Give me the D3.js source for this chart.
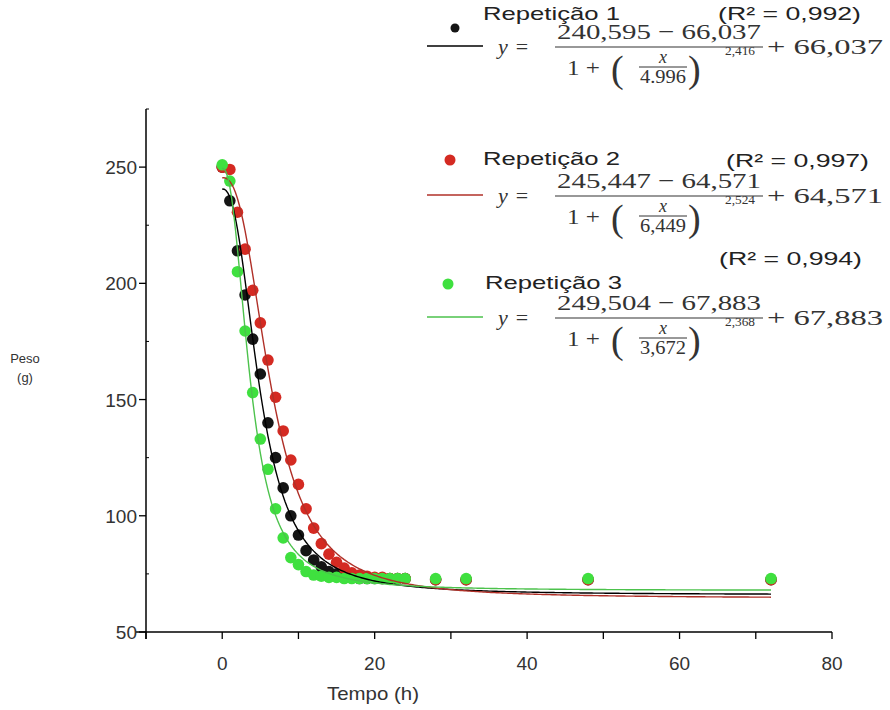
<!DOCTYPE html>
<html>
<head>
<meta charset="utf-8">
<script src="https://cdn.jsdelivr.net/npm/d3@7"></script>
<style>
  body { margin: 0; background: #fff; }
  svg { display: block; }
  .tick-label { font-family: "Liberation Sans", Arial, sans-serif; font-size: 19px; fill: #333; }
  .leg { font-family: "Liberation Sans", Arial, sans-serif; font-size: 19px; fill: #222; }
  .eq { font-family: "Liberation Serif", "DejaVu Serif", serif; fill: #333; }
</style>
</head>
<body>
<div id="chart"></div>
<script>
// time (h)
const hours = [0,1,2,3,4,5,6,7,8,9,10,11,12,13,14,15,16,17,18,19,20,21,22,23,24,28,32,48,72];

// peso (g) per repeticao
const rep1 = [250,235.5,214,195,176,161,140,125,112,100,91.7,85,81,78,76,75,74,73.5,73,73,73,73,73,73,73,72.5,72.5,72.5,72.5];
const rep2 = [250,249,230.6,214.7,197,183,167,151,136.5,124,113.5,103,94.7,88,83.5,80,77.5,75.5,74.5,74,73.5,73.5,73,73,73,72.5,72.5,72.5,72.5];
const rep3 = [251,244,205,179.5,153,133,120,103,90.5,82,79,76,74.5,74,73.5,73.5,73,73,73,73,73,73,73,73,73,73,73,73,73];

// fitted params [top, bottom, x50, slope]
const fit1 = [240.595, 66.037, 4.996, 2.416];
const fit2 = [245.447, 64.571, 6.449, 2.524];
const fit3 = [249.504, 67.883, 3.672, 2.368];

// text as printed on the chart
const eqText1 = ["240,595", "66,037", "4.996", "2,416"];
const eqText2 = ["245,447", "64,571", "6,449", "2,524"];
const eqText3 = ["249,504", "67,883", "3,672", "2,368"];
const names = ["Repetição 1", "Repetição 2", "Repetição 3"];
const r2 = ["(R² = 0,992)", "(R² = 0,997)", "(R² = 0,994)"];

const yTicks = [50,100,150,200,250];
const yMinor = [75,125,175,225,275];
const xTicks = [-10,0,10,20,30,40,50,60,70,80];
const xLabels = [0,20,40,60,80];

const W = 890, H = 710;
const svg = d3.select("#chart").append("svg").attr("width", W).attr("height", H);

const x = d3.scaleLinear().domain([-10, 80]).range([146, 832]);
const y = d3.scaleLinear().domain([50, 275]).range([632, 109]);

// axes
svg.append("line").attr("x1", x(-10)).attr("x2", x(-10)).attr("y1", y(275)).attr("y2", y(50) + 7)
  .attr("stroke", "#000").attr("stroke-width", 1.5);
svg.append("line").attr("x1", x(-10) - 10).attr("x2", x(80)).attr("y1", y(50)).attr("y2", y(50))
  .attr("stroke", "#000").attr("stroke-width", 1.5);

svg.selectAll(".ytick").data(yTicks).enter().append("line")
  .attr("x1", x(-10) - 7).attr("x2", x(-10)).attr("y1", d => y(d)).attr("y2", d => y(d))
  .attr("stroke", "#000").attr("stroke-width", 1.3);
svg.selectAll(".yminor").data(yMinor).enter().append("line")
  .attr("x1", x(-10)).attr("x2", x(-10) + 3).attr("y1", d => y(d)).attr("y2", d => y(d))
  .attr("stroke", "#000").attr("stroke-width", 1);
svg.selectAll(".ylab").data(yTicks).enter().append("text")
  .attr("class", "tick-label")
  .attr("x", x(-10) - 9).attr("y", d => y(d) + 7)
  .attr("text-anchor", "end")
  .text(d => d);

svg.selectAll(".xtick").data(xTicks).enter().append("line")
  .attr("x1", d => x(d)).attr("x2", d => x(d)).attr("y1", y(50)).attr("y2", y(50) + 7)
  .attr("stroke", "#000").attr("stroke-width", 1.3);
svg.selectAll(".xlab").data(xLabels).enter().append("text")
  .attr("class", "tick-label")
  .attr("x", d => x(d)).attr("y", y(50) + 38)
  .attr("text-anchor", "middle")
  .text(d => d);

svg.append("text").attr("class", "tick-label").attr("x", 327).attr("y", 700)
  .attr("textLength", 92).attr("lengthAdjust", "spacingAndGlyphs").text("Tempo (h)");
const ylab = svg.append("text").attr("class", "tick-label").style("font-size", "13px")
  .attr("text-anchor", "middle");
ylab.append("tspan").attr("x", 25).attr("y", 363).text("Peso");
ylab.append("tspan").attr("x", 25).attr("y", 382).text("(g)");

// series
const series = [
  { vals: rep1, fit: fit1, dot: "#151515", line: "#000000", eq: eqText1 },
  { vals: rep2, fit: fit2, dot: "#d42a22", line: "#b03028", eq: eqText2 },
  { vals: rep3, fit: fit3, dot: "#3fe03f", line: "#4cc24c", eq: eqText3 }
];

function model(p, t) {
  return (p[0] - p[1]) / (1 + Math.pow(t / p[2], p[3])) + p[1];
}

const curveX = d3.range(0, 72.01, 0.25);
const line = d3.line().x(d => x(d[0])).y(d => y(d[1]));

series.forEach(s => {
  svg.append("g").selectAll("circle")
    .data(hours.map((h, i) => [h, s.vals[i]]))
    .enter().append("circle")
    .attr("cx", d => x(d[0])).attr("cy", d => y(d[1]))
    .attr("r", 5.8).attr("fill", s.dot);
});
series.forEach(s => {
  svg.append("path")
    .datum(curveX.map(t => [t, model(s.fit, t)]))
    .attr("d", line)
    .attr("fill", "none").attr("stroke", s.line).attr("stroke-width", 1.4);
});

// legend
const legRows = [
  { dot: [455, 28], r: 4.5, name: [483, 20], r2: [718, 20], bar: [555, 47] },
  { dot: [450, 160], r: 5.5, name: [483, 165], r2: [726, 167], bar: [555, 196] },
  { dot: [448, 284], r: 5.5, name: [485, 289], r2: [719, 265], bar: [555, 318] }
];

legRows.forEach((L, i) => {
  const s = series[i];
  const g = svg.append("g");
  g.append("circle").attr("cx", L.dot[0]).attr("cy", L.dot[1]).attr("r", L.r).attr("fill", s.dot);
  g.append("text").attr("class", "leg").attr("x", L.name[0]).attr("y", L.name[1])
    .attr("textLength", 137).attr("lengthAdjust", "spacingAndGlyphs").text(names[i]);
  g.append("text").attr("class", "leg").attr("x", L.r2[0]).attr("y", L.r2[1])
    .attr("textLength", 143).attr("lengthAdjust", "spacingAndGlyphs").text(r2[i]);

  const bx = L.bar[0], by = L.bar[1], t = s.eq;
  g.append("line").attr("x1", bx - 128).attr("x2", bx - 72).attr("y1", by - 1).attr("y2", by - 1)
    .attr("stroke", s.line).attr("stroke-width", 1.4);
  const ye = g.append("text").attr("class", "eq").attr("x", bx - 57).attr("y", by + 7)
    .style("font-size", "22px");
  ye.append("tspan").style("font-style", "italic").text("y");
  ye.append("tspan").attr("dx", 8).text("=");
  g.append("text").attr("class", "eq").attr("x", bx + 104).attr("y", by - 8)
    .attr("text-anchor", "middle").style("font-size", "22px")
    .attr("textLength", 204).attr("lengthAdjust", "spacingAndGlyphs")
    .text(t[0] + " − " + t[1]);
  g.append("line").attr("x1", bx).attr("x2", bx + 208).attr("y1", by).attr("y2", by)
    .attr("stroke", "#333").attr("stroke-width", 1.2);
  g.append("text").attr("class", "eq").attr("x", bx + 12).attr("y", by + 28)
    .style("font-size", "22px").attr("textLength", 33).attr("lengthAdjust", "spacingAndGlyphs")
    .text("1 +");
  g.append("text").attr("class", "eq").attr("x", bx + 56).attr("y", by + 35)
    .style("font-size", "38px").style("font-weight", "lighter").text("(");
  g.append("text").attr("class", "eq").attr("x", bx + 133).attr("y", by + 35)
    .style("font-size", "38px").style("font-weight", "lighter").text(")");
  g.append("text").attr("class", "eq").attr("x", bx + 108).attr("y", by + 16)
    .attr("text-anchor", "middle").style("font-size", "18px").style("font-style", "italic").text("x");
  g.append("line").attr("x1", bx + 84).attr("x2", bx + 132).attr("y1", by + 20).attr("y2", by + 20)
    .attr("stroke", "#333").attr("stroke-width", 1);
  g.append("text").attr("class", "eq").attr("x", bx + 108).attr("y", by + 36)
    .attr("text-anchor", "middle").style("font-size", "18px")
    .attr("textLength", 46).attr("lengthAdjust", "spacingAndGlyphs").text(t[2]);
  g.append("text").attr("class", "eq").attr("x", bx + 170).attr("y", by + 8)
    .style("font-size", "13px").attr("textLength", 30).attr("lengthAdjust", "spacingAndGlyphs")
    .text(t[3]);
  g.append("text").attr("class", "eq").attr("x", bx + 212).attr("y", by + 7)
    .style("font-size", "22px").attr("textLength", 116).attr("lengthAdjust", "spacingAndGlyphs")
    .text("+ " + t[1]);
});
</script>
</body>
</html>
